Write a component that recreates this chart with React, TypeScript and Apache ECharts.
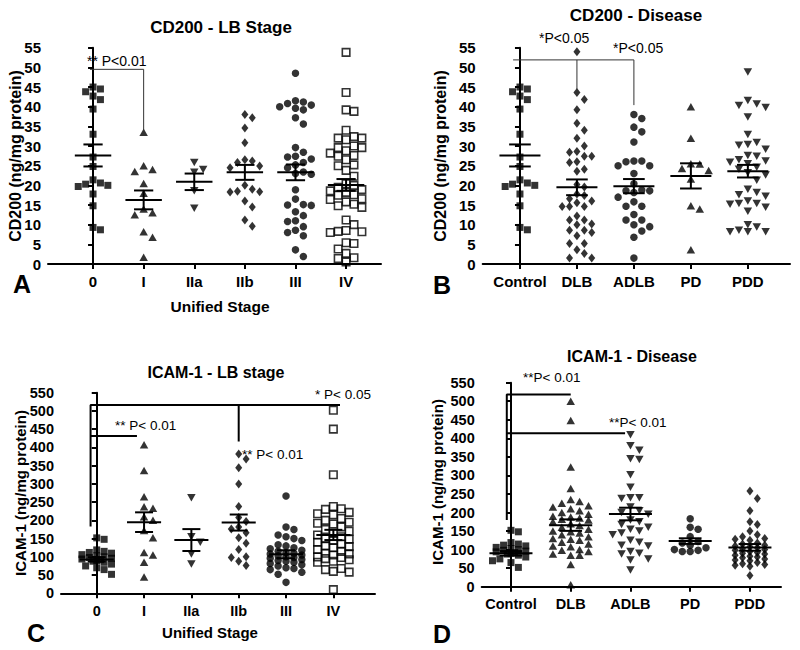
import React, { useEffect, useRef } from "react";
import * as echarts from "echarts";

// ---------------- DATA ----------------
const stageCats = ["0", "I", "IIa", "IIb", "III", "IV"];
const diseaseCats = ["Control", "DLB", "ADLB", "PD", "PDD"];

// CD200 (ng/mg protein) by unified LB stage
const cd200Stage0 = [45.0, 44.5, 43.8, 42.7, 41.8, 39.4, 33.0, 27.2, 24.8, 21.4, 20.6, 20.3, 20.0, 19.7, 17.8, 14.8, 9.3, 8.7];
const cd200StageI = [33.5, 25.0, 24.0, 23.5, 20.5, 18.0, 14.0, 13.0, 12.5, 8.2, 6.8, 1.7];
const cd200StageIIa = [25.8, 24.0, 23.3, 18.6, 14.2];
const cd200StageIIb = [38.0, 37.2, 34.6, 30.8, 26.5, 26.2, 25.8, 24.9, 24.5, 20.0, 19.0, 18.5, 18.4, 18.3, 16.0, 14.5, 11.2, 9.6];
const cd200StageIII = [48.5, 41.5, 41.2, 40.8, 40.4, 40.0, 39.6, 39.2, 37.2, 35.6, 29.6, 28.4, 27.4, 27.2, 26.7, 25.8, 25.2, 24.5, 23.4, 23.0, 22.8, 18.9, 16.5, 15.1, 15.0, 14.9, 13.3, 12.3, 11.0, 10.8, 9.5, 8.6, 8.0, 7.2, 3.6, 1.9];
const cd200StageIV = [53.8, 43.6, 39.2, 38.8, 34.0, 32.4, 32.0, 32.0, 31.6, 30.0, 29.6, 29.6, 28.8, 28.2, 27.6, 27.4, 26.5, 25.2, 25.0, 23.8, 22.3, 20.4, 20.0, 19.5, 18.9, 18.6, 18.2, 17.6, 17.5, 16.6, 16.4, 15.8, 15.2, 14.8, 14.4, 11.2, 10.0, 8.5, 8.3, 8.2, 8.0, 5.4, 5.2, 3.8, 2.7, 1.6, 1.4, 0.5];
const cd200StageMean = [27.6, 16.3, 20.9, 23.3, 23.3, 20.1];
const cd200StageSem = [2.8, 2.4, 2.1, 1.9, 2.0, 1.5];

// CD200 by disease
const cd200Control = cd200Stage0;
const cd200DLB = [54.0, 43.6, 41.8, 39.2, 35.8, 34.0, 32.0, 30.0, 28.6, 28.4, 27.4, 27.4, 26.0, 25.8, 24.1, 23.6, 20.2, 19.6, 17.8, 17.4, 16.6, 16.0, 15.6, 14.6, 14.6, 14.6, 12.2, 11.2, 11.2, 10.2, 10.0, 8.6, 8.6, 8.0, 7.2, 5.2, 5.2, 3.6, 2.7, 1.5, 1.5];
const cd200ADLB = [38.0, 37.0, 34.8, 33.6, 31.0, 26.2, 26.2, 26.0, 25.0, 25.0, 23.0, 20.4, 18.8, 18.6, 18.6, 18.2, 17.0, 15.8, 14.7, 14.7, 12.6, 11.2, 11.2, 10.0, 9.5, 8.4, 6.8, 1.5];
const cd200PD = [40.0, 32.0, 25.5, 25.4, 24.3, 23.8, 21.6, 14.8, 14.0, 3.6];
const cd200PDD = [48.8, 41.6, 40.7, 40.3, 39.8, 37.4, 32.9, 30.9, 30.4, 30.2, 29.2, 27.6, 27.4, 26.5, 26.2, 25.9, 25.5, 24.6, 24.1, 23.2, 22.6, 21.3, 19.0, 18.2, 17.6, 17.2, 16.0, 15.4, 15.4, 15.2, 14.4, 13.4, 10.0, 9.4, 8.6, 8.2, 8.2, 8.2];
const cd200DiseaseMean = [27.6, 19.5, 19.8, 22.4, 23.6];
const cd200DiseaseSem = [2.8, 2.0, 1.8, 3.2, 1.6];

// ICAM-1 (ng/mg protein) by unified LB stage
const icamStage0 = [152, 148, 119, 115, 112, 110, 106, 103, 100, 98, 96, 94, 92, 90, 88, 85, 80, 75, 70, 65, 52];
const icamStageI = [407, 337, 265, 237, 233, 210, 200, 172, 152, 112, 105, 85, 45];
const icamStageIIa = [262, 155, 140, 108, 80];
const icamStageIIb = [382, 368, 344, 300, 238, 208, 197, 182, 176, 166, 152, 137, 120, 100, 98, 88, 76];
const icamStageIII = [267, 182, 175, 160, 155, 150, 145, 133, 130, 125, 122, 118, 115, 112, 110, 108, 105, 103, 100, 98, 96, 93, 90, 88, 85, 82, 78, 75, 70, 68, 65, 58, 52, 30];
const icamStageIV = [502, 450, 325, 238, 232, 230, 222, 218, 215, 205, 200, 195, 192, 190, 182, 175, 170, 165, 160, 155, 150, 148, 145, 140, 135, 130, 128, 125, 120, 115, 110, 108, 105, 100, 98, 95, 92, 88, 85, 68, 65, 60, 58, 10];
const icamStageMean = [93, 195, 146, 194, 107, 160];
const icamStageSem = [6, 27, 30, 22, 11, 14];

// ICAM-1 by disease
const icamControl = icamStage0;
const icamDLB = [500, 448, 323, 265, 235, 230, 225, 218, 215, 210, 205, 200, 195, 190, 188, 185, 182, 180, 175, 170, 165, 160, 155, 150, 148, 145, 140, 135, 130, 128, 125, 120, 115, 110, 108, 100, 98, 95, 88, 85, 85, 60, 5];
const icamADLB = [410, 380, 368, 345, 343, 302, 268, 240, 240, 238, 215, 205, 200, 195, 180, 175, 168, 160, 155, 150, 145, 140, 125, 120, 112, 110, 95, 90, 88, 75, 72, 45];
const icamPD = [183, 160, 155, 135, 122, 118, 112, 105, 100, 98, 95, 95];
const icamPDD = [258, 238, 205, 175, 168, 150, 140, 135, 130, 128, 125, 118, 115, 112, 110, 108, 105, 102, 100, 98, 95, 92, 90, 88, 85, 82, 80, 78, 75, 72, 70, 65, 62, 60, 58, 55, 30];
const icamDiseaseMean = [90, 166, 196, 123, 106];
const icamDiseaseSem = [6, 15.5, 17, 7.5, 9];

// significance brackets (data coordinates: [category position, value])
const cd200StageBrackets = [[[-0.06, 49.5], [1, 49.5], [1, 33.5]]];
const cd200DiseaseBrackets = [
  [[-0.12, 51.9], [2, 51.9], [2, 40.4]],
  [[1, 51.9], [1, 43.6]],
];
const icamStageBrackets = [
  [[-0.13, 183], [-0.13, 516], [5.14, 516]],
  [[-0.13, 431], [0.85, 431]],
  [[3.0, 516], [3.0, 416]],
];
const icamDiseaseBrackets = [
  [[-0.07, 180], [-0.07, 518], [1.0, 518]],
  [[-0.07, 414], [1.91, 414]],
];

// ---------------- LAYOUT / STYLE ----------------
const FONT = '"Liberation Sans", Arial, sans-serif';

type Sym = { symbol: string; size: number[]; rotate?: number; open?: boolean };
const SQ: Sym = { symbol: "rect", size: [7, 7] };
const TRI: Sym = { symbol: "triangle", size: [8.5, 7.5] };
const TRID: Sym = { symbol: "triangle", size: [8.5, 7.5], rotate: 180 };
const DIA: Sym = { symbol: "diamond", size: [7, 9] };
const CIR: Sym = { symbol: "circle", size: [7.5, 7.5] };
const OSQ: Sym = { symbol: "rect", size: [7.5, 7.5], open: true };

const panels = [
  {
    left: 48, top: 47.7, width: 333, height: 216.3, xMin: -0.89, xMax: 5.69, yMax: 55, yStep: 5,
    cats: stageCats, groups: [cd200Stage0, cd200StageI, cd200StageIIa, cd200StageIIb, cd200StageIII, cd200StageIV],
    mean: cd200StageMean, sem: cd200StageSem, syms: [SQ, TRI, TRID, DIA, CIR, OSQ],
    brackets: cd200StageBrackets, bw: 1, bc: "#333", tickFont: 15,
  },
  {
    left: 482.7, top: 47.7, width: 307.3, height: 216.3, xMin: -0.654, xMax: 4.74, yMax: 55, yStep: 5,
    cats: diseaseCats, groups: [cd200Control, cd200DLB, cd200ADLB, cd200PD, cd200PDD],
    mean: cd200DiseaseMean, sem: cd200DiseaseSem, syms: [SQ, DIA, CIR, TRI, TRID],
    brackets: cd200DiseaseBrackets, bw: 1, bc: "#333", tickFont: 15,
  },
  {
    left: 61, top: 392.7, width: 314, height: 200.6, xMin: -0.755, xMax: 5.88, yMax: 550, yStep: 50,
    cats: stageCats, groups: [icamStage0, icamStageI, icamStageIIa, icamStageIIb, icamStageIII, icamStageIV],
    mean: icamStageMean, sem: icamStageSem, syms: [SQ, TRI, TRID, DIA, CIR, OSQ],
    brackets: icamStageBrackets, bw: 2, bc: "#000", tickFont: 14.5,
  },
  {
    left: 481.7, top: 382.7, width: 299.3, height: 204, xMin: -0.49, xMax: 4.52, yMax: 550, yStep: 50,
    cats: diseaseCats, groups: [icamControl, icamDLB, icamADLB, icamPD, icamPDD],
    mean: icamDiseaseMean, sem: icamDiseaseSem, syms: [SQ, TRI, TRID, CIR, DIA],
    brackets: icamDiseaseBrackets, bw: 2, bc: "#000", tickFont: 14.5,
  },
];

// GraphPad-like scatter layout: horizontal offsets (category units) so symbols
// don't overlap, limited to a maximum half-width (then the least-overlapping slot)
function swarm(values: number[], kx: number, ky: number, w: number, h: number, cap: number): number[] {
  const placed: { x: number; y: number }[] = [];
  const step = w / 2;
  return values.map((v) => {
    const y = v * ky;
    let best = 0;
    let bestScore = -Infinity;
    let found = false;
    for (let i = 0; i < 200; i++) {
      const cand = i === 0 ? 0 : (i % 2 === 1 ? 1 : -1) * Math.ceil(i / 2) * step;
      if (Math.abs(cand) > cap) break;
      let ok = true;
      let score = Infinity;
      for (const p of placed) {
        const dx = Math.abs(p.x - cand);
        const dy = Math.abs(p.y - y);
        if (dx < w && dy < h) ok = false;
        score = Math.min(score, Math.max(dx / w, dy / h));
      }
      if (ok) {
        best = cand;
        found = true;
        break;
      }
      if (score > bestScore) {
        bestScore = score;
        best = cand;
      }
    }
    if (!found && bestScore === -Infinity) best = 0;
    placed.push({ x: best, y });
    return best / kx;
  });
}

function buildOption() {
  const grid: any[] = [];
  const xAxis: any[] = [];
  const yAxis: any[] = [];
  const series: any[] = [];

  panels.forEach((p, pi) => {
    grid.push({ left: p.left, top: p.top, width: p.width, height: p.height, containLabel: false });
    const ticks = p.cats.map((_, i) => i);
    xAxis.push({
      type: "value", gridIndex: pi, min: p.xMin, max: p.xMax,
      axisLine: { show: true, onZero: false, lineStyle: { color: "#000", width: 2 } },
      axisTick: { show: true, customValues: ticks, length: 5, lineStyle: { color: "#000", width: 2 } },
      axisLabel: {
        show: true, customValues: ticks, margin: 10,
        formatter: (v: number) => p.cats[Math.round(v)] ?? "",
        color: "#000", fontFamily: FONT, fontWeight: "bold", fontSize: p.tickFont,
      },
      splitLine: { show: false },
    });
    yAxis.push({
      type: "value", gridIndex: pi, min: 0, max: p.yMax, interval: p.yStep,
      axisLine: { show: true, lineStyle: { color: "#000", width: 2 } },
      axisTick: { show: true, length: 5, lineStyle: { color: "#000", width: 2 } },
      axisLabel: { color: "#000", fontFamily: FONT, fontWeight: "bold", fontSize: p.tickFont, margin: 7 },
      splitLine: { show: false },
    });

    const kx = p.width / (p.xMax - p.xMin);
    const ky = p.height / p.yMax;
    const cap = 0.36 * kx;

    p.groups.forEach((vals, gi) => {
      const s = p.syms[gi];
      const offs = swarm(vals, kx, ky, s.size[0] + 0.4, 8.5, cap);
      series.push({
        type: "scatter", xAxisIndex: pi, yAxisIndex: pi, silent: true, z: 2,
        data: vals.map((v, k) => [gi + offs[k], v]),
        symbol: s.symbol, symbolSize: s.size, symbolRotate: s.rotate ?? 0,
        itemStyle: s.open
          ? { color: "rgba(255,255,255,0)", borderColor: "#000", borderWidth: 1.6 }
          : { color: "#000" },
      });
    });

    series.push({
      type: "custom", xAxisIndex: pi, yAxisIndex: pi, silent: true, z: 4,
      coordinateSystem: "cartesian2d",
      data: p.mean.map((m, i) => [i, m, p.sem[i]]),
      renderItem: (_params: any, api: any) => {
        const x = api.value(0);
        const m = api.value(1);
        const e = api.value(2);
        const a = api.coord([x - 0.36, m]);
        const b = api.coord([x + 0.36, m]);
        const t1 = api.coord([x - 0.19, m + e]);
        const t2 = api.coord([x + 0.19, m + e]);
        const b1 = api.coord([x - 0.19, m - e]);
        const b2 = api.coord([x + 0.19, m - e]);
        const st = { stroke: "#000", lineWidth: 2 };
        return {
          type: "group",
          children: [
            { type: "line", shape: { x1: a[0], y1: a[1], x2: b[0], y2: b[1] }, style: st },
            { type: "line", shape: { x1: t1[0], y1: t1[1], x2: t2[0], y2: t2[1] }, style: st },
            { type: "line", shape: { x1: b1[0], y1: b1[1], x2: b2[0], y2: b2[1] }, style: st },
            { type: "line", shape: { x1: (t1[0] + t2[0]) / 2, y1: t1[1], x2: (b1[0] + b2[0]) / 2, y2: b1[1] }, style: st },
          ],
        };
      },
    });

    p.brackets.forEach((seg) => {
      series.push({
        type: "line", xAxisIndex: pi, yAxisIndex: pi, silent: true, z: 3,
        data: seg, symbol: "none", lineStyle: { color: p.bc, width: p.bw },
      });
    });
  });

  const txt = (text: string, x: number, y: number, size: number, bold: boolean, align = "center", rot = 0) => ({
    type: "text", x, y, rotation: rot, silent: true,
    style: {
      text, fill: "#000", font: `${bold ? "bold " : ""}${size}px ${FONT}`,
      align, verticalAlign: "middle",
    },
  });

  const graphic = [
    txt("CD200 - LB Stage", 221, 27, 17, true),
    txt("CD200 - Disease", 636, 15, 17, true),
    txt("ICAM-1 - LB stage", 216, 372, 16, true),
    txt("ICAM-1 - Disease", 632, 356, 16, true),
    txt("CD200 (ng/mg protein)", 15, 156, 16, true, "center", Math.PI / 2),
    txt("CD200 (ng/mg protein)", 440, 156, 16, true, "center", Math.PI / 2),
    txt("ICAM-1 (ng/mg protein)", 20, 493, 15, true, "center", Math.PI / 2),
    txt("ICAM-1 (ng/mg protein)", 437, 482, 15, true, "center", Math.PI / 2),
    txt("Unified Stage", 220, 306, 15.5, true),
    txt("Unified Stage", 210, 632, 15, true),
    txt("A", 13, 284, 25, true, "left"),
    txt("B", 433, 285, 25, true, "left"),
    txt("C", 27, 633, 25, true, "left"),
    txt("D", 433, 634, 25, true, "left"),
    txt("** P<0.01", 87, 61, 14, false, "left"),
    txt("*P<0.05", 539, 38, 14, false, "left"),
    txt("*P<0.05", 613, 48, 14, false, "left"),
    txt("** P< 0.01", 115, 425, 13.5, false, "left"),
    txt("** P< 0.01", 242, 454, 13.5, false, "left"),
    txt("* P< 0.05", 315, 394, 13.5, false, "left"),
    txt("**P< 0.01", 523, 377, 13.5, false, "left"),
    txt("**P< 0.01", 609, 422, 13.5, false, "left"),
  ];

  return {
    animation: false,
    backgroundColor: "#fff",
    grid, xAxis, yAxis, series, graphic,
  };
}

export default function App() {
  const ref = useRef<HTMLDivElement>(null);
  useEffect(() => {
    if (!ref.current) return;
    const chart = echarts.init(ref.current, undefined, { renderer: "svg" });
    chart.setOption(buildOption() as any);
    return () => chart.dispose();
  }, []);
  return (
    <div
      ref={ref}
      style={{ position: "absolute", left: 0, top: 0, width: 800, height: 650, background: "#fff" }}
    />
  );
}
